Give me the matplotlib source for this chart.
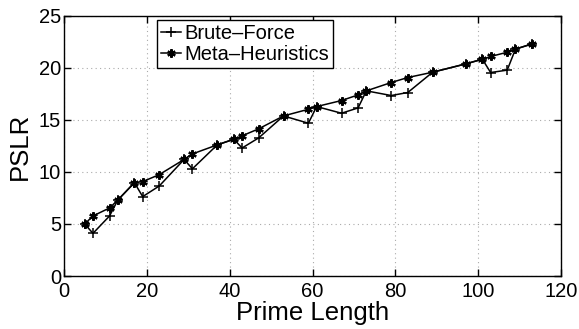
# PSLR vs prime length, brute force vs meta-heuristics
import matplotlib
matplotlib.use('Agg')
from matplotlib import pyplot as plt

plt.rcParams['font.family'] = ['Liberation Sans', 'DejaVu Sans']

primes = [5, 7, 11, 13, 17, 19, 23, 29, 31, 37, 41, 43, 47, 53, 59, 61, 67, 71,
          73, 79, 83, 89, 97, 101, 103, 107, 109, 113]
brute = [5.0, 4.1, 5.77, 7.3, 8.97, 7.63, 8.65, 11.2, 10.3, 12.6, 13.14, 12.3,
         13.27, 15.38, 14.68, 16.28, 15.64, 16.15, 17.79, 17.34, 17.63, 19.58,
         20.38, 20.83, 19.55, 19.78, 21.8, 22.3]
meta = [5.0, 5.77, 6.54, 7.3, 8.97, 9.07, 9.74, 11.2, 11.73, 12.6, 13.14, 13.47,
        14.14, 15.38, 16.02, 16.28, 16.86, 17.4, 17.79, 18.59, 19.07, 19.58,
        20.38, 20.83, 21.09, 21.5, 21.8, 22.3]

fig = plt.figure(figsize=(5.79, 3.29), dpi=100)
ax = fig.add_axes([0.1105, 0.161, 0.8585, 0.791])

ax.plot(primes, brute, color='black', lw=1.1, marker='+', ms=7, mew=1.1,
        label='Brute\u2013Force')
ax.plot(primes, meta, color='black', lw=1.1, marker=(6, 2, 0), ms=6, mew=1.6,
        label='Meta\u2013Heuristics')

ax.set_xlim(0, 120)
ax.set_ylim(0, 25)
ax.set_xticks(range(0, 121, 20))
ax.set_yticks(range(0, 26, 5))
ax.grid(True, ls=(0, (1, 3)), color='#aaaaaa', lw=0.8)
ax.tick_params(direction='in', top=True, right=True, length=5, width=1,
               labelsize=14.5)
ax.tick_params(axis='x', pad=4)
ax.tick_params(axis='y', pad=2)
for s in ax.spines.values():
    s.set_linewidth(1.0)

ax.set_xlabel('Prime Length', fontsize=18.5, labelpad=0.5)
ax.set_ylabel('PSLR', fontsize=18.5, labelpad=5)

leg = ax.legend(loc='upper left', bbox_to_anchor=(0.187, 0.985),
                borderaxespad=0, fontsize=14.5, handlelength=1.0,
                handletextpad=0.15, borderpad=0.2, labelspacing=0.1,
                fancybox=False, framealpha=1, edgecolor='black')
leg.get_frame().set_linewidth(1.0)

plt.savefig('out.png', dpi=100)
